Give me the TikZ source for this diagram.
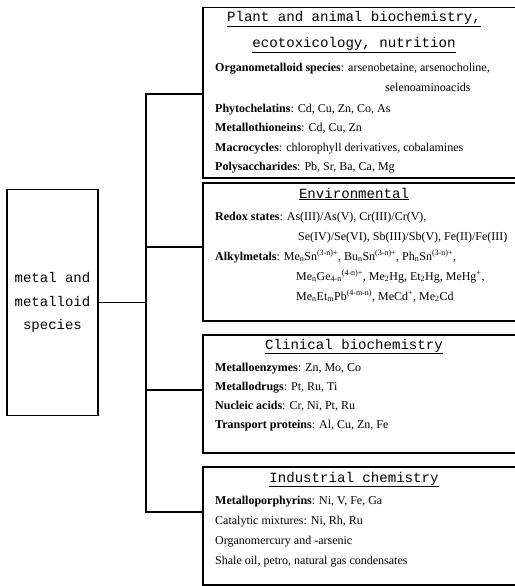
\documentclass[tikz,border=0pt]{standalone}
\usepackage{fontspec}
\setmainfont{Liberation Serif}
\newfontfamily\monof{Liberation Mono}
\begin{document}
\begin{tikzpicture}[x=1pt,y=-1pt,
  box/.style={draw, line width=1.5pt, anchor=north west, minimum width=330pt, inner sep=0pt},
  mainbox/.style={draw, line width=1.5pt, minimum width=91pt, minimum height=226pt, inner sep=0pt, align=center, font=\monof\fontsize{14}{23.5}\selectfont},
  ttl/.style={font=\monof\fontsize{14.1}{16}\selectfont, anchor=base, inner sep=0pt},
  txt/.style={font=\fontsize{12}{15}\selectfont, anchor=base west, inner sep=0pt},
  conn/.style={line width=1.4pt}]
\useasboundingbox (0,0) rectangle (514,586);
% main box
\node[mainbox] (main) at (52.5,302.5) {metal and\\metalloid\\species};
% category boxes
\node[box, minimum height=170pt] (b1) at (202,7) {};
\node[box, minimum height=138pt] (b2) at (202,182) {};
\node[box, minimum height=118pt] (b3) at (202,334) {};
\node[box, minimum height=118pt] (b4) at (202,466) {};
% connectors
\coordinate (j1) at (146,94);
\coordinate (j2) at (146,247);
\coordinate (j3) at (146,390);
\coordinate (j4) at (146,512);
\draw[conn] (j1 -| b1.west) -- (j1) -- (j4) -- (j4 -| b4.west);
\draw[conn] (main.east) -- (main.east -| j1);
\draw[conn] (j2) -- (j2 -| b2.west);
\draw[conn] (j3) -- (j3 -| b3.west);
% box 1
\node[ttl] (t1a) at (354,22) {\underline{Plant and animal biochemistry,}};
\node[ttl] (t1b) at (354,48) {\underline{ecotoxicology, nutrition}};
\node[txt] (l11) at (215,71) {\textbf{Organometalloid species}: arsenobetaine, arsenocholine,};
\node[txt] (l12) at (385,91) {selenoaminoacids};
\node[txt] (l13) at (215,112) {\textbf{Phytochelatins}: Cd, Cu, Zn, Co, As};
\node[txt] (l14) at (215,131) {\textbf{Metallothioneins}: Cd, Cu, Zn};
\node[txt] (l15) at (215,151) {\textbf{Macrocycles}: chlorophyll derivatives, cobalamines};
\node[txt] (l16) at (215,170) {\textbf{Polysaccharides}: Pb, Sr, Ba, Ca, Mg};
% box 2
\node[ttl] (t2) at (354,198) {\underline{Environmental}};
\node[txt] (l21) at (215,220) {\textbf{Redox states}: As(III)/As(V), Cr(III)/Cr(V),};
\node[txt] (l22) at (298,240) {Se(IV)/Se(VI), Sb(III)/Sb(V), Fe(II)/Fe(III)};
\node[txt] (l23) at (215,260) {\textbf{Alkylmetals}: Me\textsubscript{n}Sn\textsuperscript{(3-n)+}, Bu\textsubscript{n}Sn\textsuperscript{(3-n)+}, Ph\textsubscript{n}Sn\textsuperscript{(3-n)+},};
\node[txt] (l24) at (296,280) {Me\textsubscript{n}Ge\textsubscript{4-n}\textsuperscript{(4-n)+}, Me\textsubscript{2}Hg, Et\textsubscript{2}Hg, MeHg\textsuperscript{+},};
\node[txt] (l25) at (296,300) {Me\textsubscript{n}Et\textsubscript{m}Pb\textsuperscript{(4-m-n)}, MeCd\textsuperscript{+}, Me\textsubscript{2}Cd};
% box 3
\node[ttl] (t3) at (354,349) {\underline{Clinical biochemistry}};
\node[txt] (l31) at (215,371) {\textbf{Metalloenzymes}: Zn, Mo, Co};
\node[txt] (l32) at (215,390) {\textbf{Metallodrugs}: Pt, Ru, Ti};
\node[txt] (l33) at (215,409) {\textbf{Nucleic acids}: Cr, Ni, Pt, Ru};
\node[txt] (l34) at (215,428) {\textbf{Transport proteins}: Al, Cu, Zn, Fe};
% box 4
\node[ttl] (t4) at (354,482) {\underline{Industrial chemistry}};
\node[txt] (l41) at (215,504) {\textbf{Metalloporphyrins}: Ni, V, Fe, Ga};
\node[txt] (l42) at (215,524) {Catalytic mixtures: Ni, Rh, Ru};
\node[txt] (l43) at (215,544) {Organomercury and -arsenic};
\node[txt] (l44) at (215,564) {Shale oil, petro, natural gas condensates};
\end{tikzpicture}
\end{document}
